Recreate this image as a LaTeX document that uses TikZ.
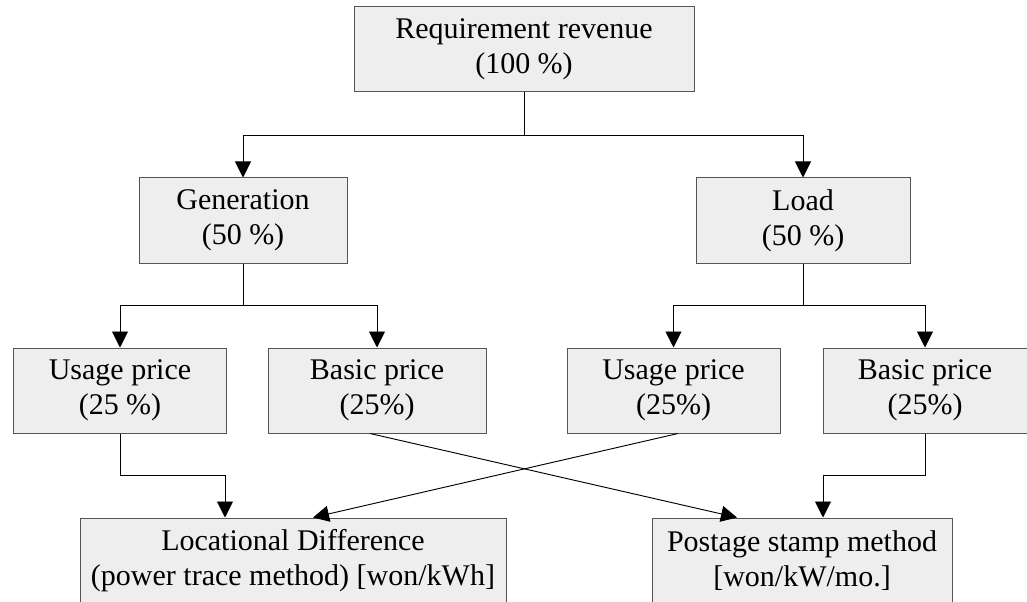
\documentclass[tikz,border=0pt]{standalone}
\usepackage{fontspec}
\setmainfont{Liberation Serif}
\usetikzlibrary{arrows.meta}
\usetikzlibrary{calc}

\begin{document}
\begin{tikzpicture}[x=0.75pt,y=0.75pt,yscale=-1,xscale=1,
  blk/.style={draw={rgb, 255:red, 85; green, 85; blue, 85 }, fill={rgb, 255:red, 238; green, 238; blue, 238 }, line width=0.75pt, minimum height=63.75pt, inner sep=0pt, align=center, font=\fontsize{22.5}{26.5}\selectfont},
  arr/.style={-{Triangle[length=12pt,width=12pt]}, line width=0.7pt}]
%set diagram to 1027 x 602
\path[use as bounding box] (0,0) rectangle (1027,602);
\clip (0,0) rectangle (1027,602);

%Shape: Rectangle [id:rev]
\node[blk, minimum width=255pt] (rev) at (524,49.5) {Requirement revenue\\(100 \%)};
%Shape: Rectangle [id:gen]
\node[blk, minimum width=156pt] (gen) at (243,220.5) {Generation\\(50 \%)};
%Shape: Rectangle [id:load]
\node[blk, minimum width=160.5pt] (load) at (803,220.5) {Load\\(50 \%)};
%Shape: Rectangle [id:usegen]
\node[blk, minimum width=159.75pt] (usegen) at (120,390.5) {Usage price\\(25 \%)};
%Shape: Rectangle [id:basgen]
\node[blk, minimum width=163.5pt] (basgen) at (377,390.5) {Basic price\\(25\%)};
%Shape: Rectangle [id:useload]
\node[blk, minimum width=159.75pt] (useload) at (673.5,390.5) {Usage price\\(25\%)};
%Shape: Rectangle [id:basload]
\node[blk, minimum width=153pt] (basload) at (925,390.5) {Basic price\\(25\%)};
%Shape: Rectangle [id:loc]
\node[blk, minimum width=319.5pt] (loc) at (293,560.5) {Locational Difference\\(power trace method) [won/kWh]};
%Shape: Rectangle [id:stamp]
\node[blk, minimum width=225pt] (stamp) at (802,560.5) {Postage stamp method\\[0pt][won/kW/mo.]};

%Connectors: tree
\draw[arr] (rev.south) -- ++(0,43) -| (gen.north);
\draw[arr] (rev.south) -- ++(0,43) -| (load.north);
\draw[arr] (gen.south) -- ++(0,42) -| (usegen.north);
\draw[arr] (gen.south) -- ++(0,42) -| (basgen.north);
\draw[arr] (load.south) -- ++(0,42) -| (useload.north);
\draw[arr] (load.south) -- ++(0,42) -| (basload.north);

%Connectors: to the methods
\draw[arr] (usegen.south) -- ++(0,42) -| ($(loc.north)+(-68,0)$);
\draw[arr] (basload.south) -- ++(0,42) -| ($(stamp.north)+(21,0)$);
\draw[arr] ($(basgen.south)+(-7,0)$) -- ($(stamp.north)+(-65,0)$);
\draw[arr] ($(useload.south)+(4.5,0)$) -- ($(loc.north)+(20,0)$);

\end{tikzpicture}
\end{document}
